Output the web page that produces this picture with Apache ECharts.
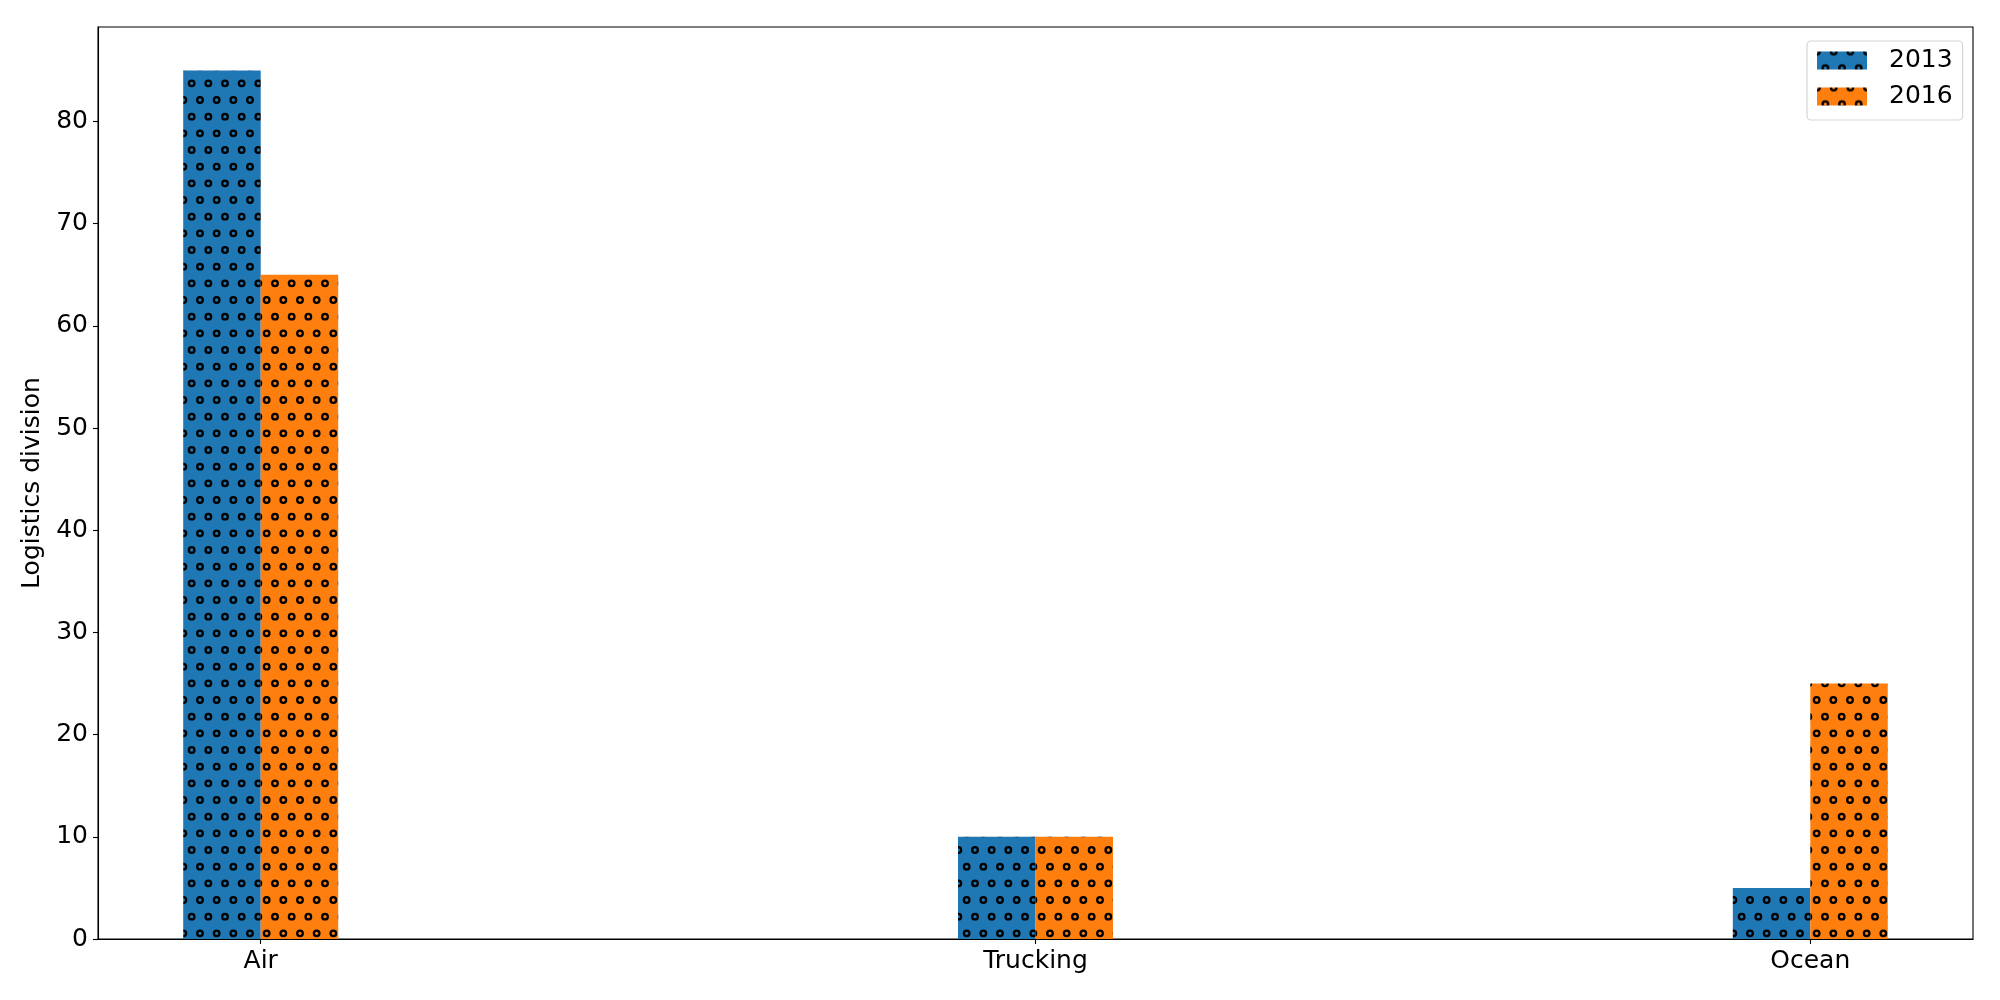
<!DOCTYPE html>
<html>
<head>
<meta charset="utf-8">
<script src="https://cdn.jsdelivr.net/npm/echarts@6/dist/echarts.min.js"></script>
<style>
html,body{margin:0;padding:0;background:#fff;}
#chart{width:2000px;height:1000px;position:absolute;left:0;top:0;}
</style>
</head>
<body>
<div id="chart"></div>
<script>
const categories = ['Air', 'Trucking', 'Ocean'];
const seriesNames = ['2013', '2016'];
const values2013 = [85, 10, 5];
const values2016 = [65, 10, 25];
const yTicks = [0, 10, 20, 30, 40, 50, 60, 70, 80];
const colors = ['#1f77b4', '#ff7f0e'];

function hatch(bg) {
  const c = document.createElement('canvas');
  c.width = 100; c.height = 100;
  const ctx = c.getContext('2d');
  ctx.fillStyle = bg;
  ctx.fillRect(0, 0, 100, 100);
  ctx.strokeStyle = '#000';
  ctx.lineWidth = 2.3;
  const s = 100 / 6;
  for (let j = -1; j <= 7; j++) {
    const off = (Math.abs(j) % 2 === 1) ? s / 2 : 0;
    for (let k = -1; k <= 7; k++) {
      ctx.beginPath();
      ctx.arc(k * s + off, j * s, 2.8, 0, Math.PI * 2);
      ctx.stroke();
    }
  }
  return { image: c, repeat: 'repeat' };
}

const chart = echarts.init(document.getElementById('chart'), null, { renderer: 'canvas', devicePixelRatio: 1 });
const font = 'DejaVu Sans';
const catIdx = categories.map((_, i) => i);

const option = {
  animation: false,
  grid: {
    left: 98, top: 27, right: 27, bottom: 61,
    show: true, borderColor: '#000', borderWidth: 1.1, backgroundColor: 'transparent'
  },
  legend: {
    orient: 'vertical',
    left: 1807, top: 41,
    padding: [7, 10, 11, 10],
    itemWidth: 50, itemHeight: 18, itemGap: 11,
    icon: 'rect',
    borderColor: '#d5d5d5', borderWidth: 1.2, borderRadius: 4,
    backgroundColor: '#fff',
    textStyle: { fontFamily: font, fontSize: 25, color: '#000', padding: [0, 0, 0, 17] },
    data: seriesNames
  },
  xAxis: {
    type: 'value',
    min: -0.21, max: 2.21,
    splitLine: { show: false },
    axisLine: { show: true, onZero: false, lineStyle: { color: '#000', width: 1.1 } },
    axisTick: { show: true, length: 5, lineStyle: { color: '#000', width: 1.1 }, customValues: catIdx },
    axisLabel: {
      customValues: catIdx, margin: 10,
      fontFamily: font, fontSize: 25, color: '#000',
      formatter: v => categories[Math.round(v)]
    }
  },
  yAxis: {
    type: 'value',
    min: 0, max: 89.25,
    name: 'Logistics division',
    nameLocation: 'middle', nameGap: 48,
    nameTextStyle: { fontFamily: font, fontSize: 25, color: '#000' },
    splitLine: { show: false },
    axisLine: { show: true, onZero: false, lineStyle: { color: '#000', width: 1.1 } },
    axisTick: { show: true, length: 5, lineStyle: { color: '#000', width: 1.1 }, customValues: yTicks },
    axisLabel: { customValues: yTicks, margin: 10, fontFamily: font, fontSize: 25, color: '#000' }
  },
  series: [
    {
      name: seriesNames[0], type: 'bar', barWidth: 77.5, barGap: '0%',
      itemStyle: { color: hatch(colors[0]) },
      data: values2013.map((v, i) => [i, v])
    },
    {
      name: seriesNames[1], type: 'bar', barWidth: 77.5, barGap: '0%',
      itemStyle: { color: hatch(colors[1]) },
      data: values2016.map((v, i) => [i, v])
    }
  ]
};
chart.setOption(option);
</script>
</body>
</html>
